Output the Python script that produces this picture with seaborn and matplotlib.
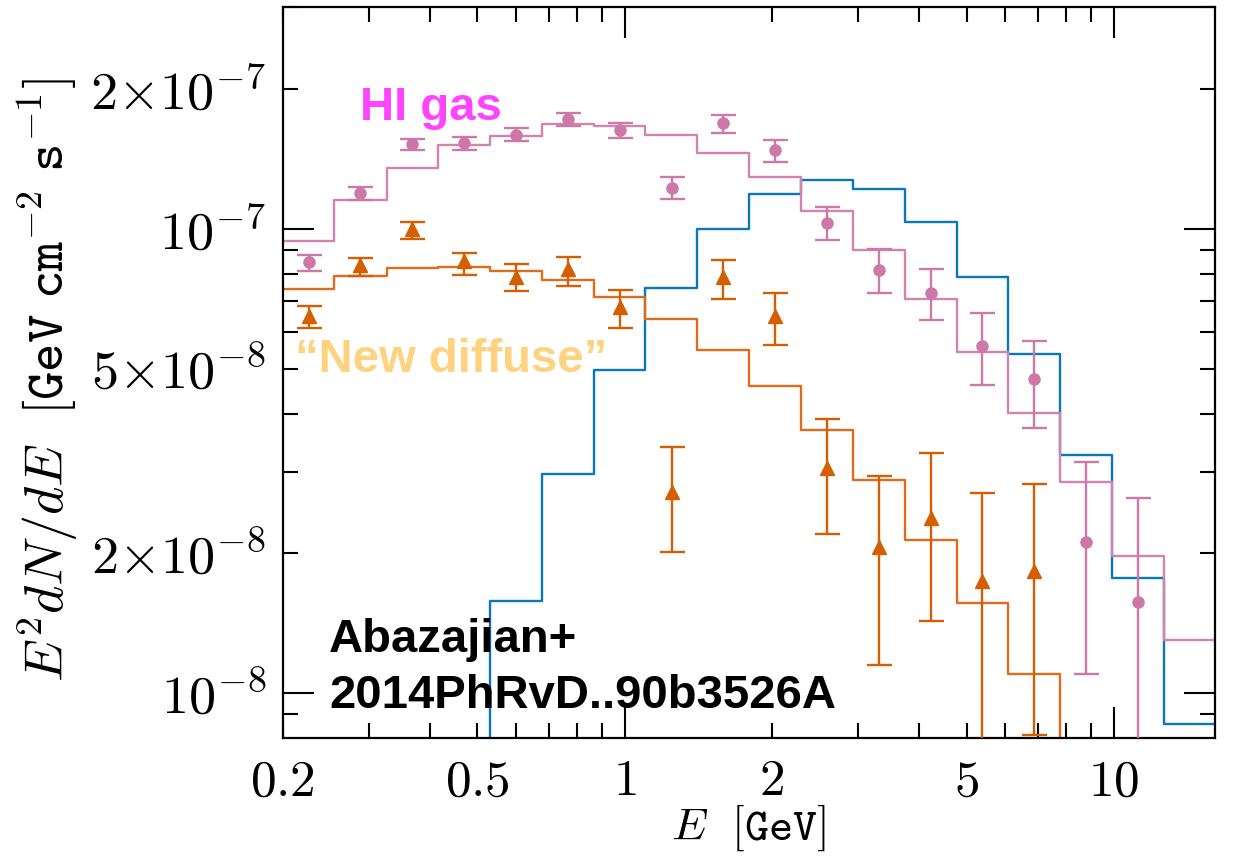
import matplotlib
matplotlib.use("Agg")
import matplotlib.pyplot as plt
import seaborn as sns
import numpy as np
import pandas as pd
from matplotlib.ticker import FixedLocator, NullFormatter

# ---------------- data (flux in units of 1e-7 GeV cm^-2 s^-1) ----------------
bin_edges = [0.200, 0.255, 0.326, 0.416, 0.531, 0.677, 0.864, 1.103, 1.408, 1.797,
             2.294, 2.928, 3.737, 4.769, 6.087, 7.768, 9.915, 12.65, 16.15]
bin_centers = [0.226, 0.288, 0.368, 0.470, 0.600, 0.765, 0.977, 1.247, 1.591, 2.030,
               2.592, 3.308, 4.221, 5.388, 6.877, 8.777, 11.20, 14.30]

hi_model = [0.942, 1.155, 1.352, 1.516, 1.587, 1.682, 1.666, 1.595, 1.454, 1.290,
            1.094, 0.898, 0.706, 0.542, 0.402, 0.285, 0.197, 0.130]
newdiff_model = [0.742, 0.793, 0.823, 0.828, 0.812, 0.776, 0.714, 0.639, 0.549, 0.459,
                 0.368, 0.287, 0.214, 0.156, 0.110, 0.065, 0.045, 0.030]
blue_model = [0.010, 0.016, 0.026, 0.042, 0.158, 0.296, 0.496, 0.744, 0.997, 1.190,
              1.274, 1.216, 1.035, 0.789, 0.537, 0.326, 0.177, 0.0856]

hi_val = [0.847, 1.192, 1.525, 1.531, 1.593, 1.721, 1.630, 1.226, 1.687, 1.475,
          1.029, 0.816, 0.729, 0.559, 0.474, 0.212, 0.157]
hi_up = [0.880, 1.228, 1.564, 1.577, 1.646, 1.777, 1.690, 1.292, 1.762, 1.556,
         1.114, 0.905, 0.821, 0.657, 0.574, 0.314, 0.263]
hi_low = [0.812, 1.155, 1.481, 1.481, 1.546, 1.666, 1.566, 1.157, 1.612, 1.395,
          0.944, 0.727, 0.635, 0.461, 0.373, 0.110, 0.050]

nd_val = [0.650, 0.834, 0.998, 0.852, 0.789, 0.819, 0.680, 0.271, 0.789, 0.650,
          0.306, 0.206, 0.238, 0.174, 0.183]
nd_up = [0.682, 0.866, 1.035, 0.888, 0.838, 0.869, 0.739, 0.338, 0.857, 0.728,
         0.389, 0.293, 0.329, 0.270, 0.282]
nd_low = [0.612, 0.791, 0.952, 0.796, 0.734, 0.752, 0.612, 0.201, 0.706, 0.563,
          0.220, 0.115, 0.143, 0.050, 0.0813]

x_ticks = [0.2, 0.5, 1, 2, 5, 10]
x_tick_labels = [r"$0.2$", r"$0.5$", r"$1$", r"$2$", r"$5$", r"$10$"]
y_ticks = [1e-8, 2e-8, 5e-8, 1e-7, 2e-7]
y_tick_labels = [r"$10^{-8}$", r"$2{\times}10^{-8}$", r"$5{\times}10^{-8}$",
                 r"$10^{-7}$", r"$2{\times}10^{-7}$"]

SCALE = 1e-7

# ---------------- style ----------------
sns.set_theme(style="ticks")
plt.rcParams["mathtext.fontset"] = "cm"
plt.rcParams["font.family"] = ["DejaVu Serif"]
plt.rcParams["axes.linewidth"] = 1.6

PINK = "#CC79A7"
PINK_STEP = "#D283B0"
ORANGE = "#D55E00"
ORANGE_STEP = "#DF6C1C"
BLUE = "#0A78B8"

fig = plt.figure(figsize=(12.33, 8.6), dpi=100)
ax = fig.add_axes([0.22928, 0.14186, 0.75612, 0.84965])
ax.set_xscale("log")
ax.set_yscale("log")


def step_frame(values):
    v = [x * SCALE for x in values] + [values[-1] * SCALE]
    return pd.DataFrame({"E": bin_edges, "F": v})


for vals, col in [(blue_model, BLUE), (newdiff_model, ORANGE_STEP), (hi_model, PINK_STEP)]:
    sns.lineplot(data=step_frame(vals), x="E", y="F", drawstyle="steps-post",
                 color=col, linewidth=1.7, ax=ax, estimator=None)

# data points
hv = np.array(hi_val) * SCALE
hu = np.array(hi_up) * SCALE
hl = np.array(hi_low) * SCALE
ax.errorbar(bin_centers[:len(hi_val)], hv, yerr=[hv - hl, hu - hv], fmt="o",
            color=PINK, markersize=8, capsize=9, elinewidth=1.7, capthick=1.7,
            zorder=5)

nv = np.array(nd_val) * SCALE
nu = np.array(nd_up) * SCALE
nl = np.array(nd_low) * SCALE
ax.errorbar(bin_centers[:len(nd_val)], nv, yerr=[nv - nl, nu - nv], fmt="^",
            color=ORANGE, markersize=10.5, capsize=9, elinewidth=1.7, capthick=1.7,
            zorder=5)

ax.set_xlim(0.2, 16.1)
ax.set_ylim(8e-9, 3e-7)

# ticks
ax.xaxis.set_major_locator(FixedLocator([1, 10]))
ax.xaxis.set_major_formatter(NullFormatter())
minor_x = [0.2, 0.3, 0.4, 0.5, 0.6, 0.7, 0.8, 0.9, 2, 3, 4, 5, 6, 7, 8, 9]
ax.xaxis.set_minor_locator(FixedLocator(minor_x))
ax.xaxis.set_minor_formatter(NullFormatter())
ax.yaxis.set_major_locator(FixedLocator([1e-8, 1e-7]))
ax.yaxis.set_major_formatter(NullFormatter())
minor_y = [9e-9] + [k * 1e-8 for k in range(2, 10)] + [2e-7, 3e-7]
ax.yaxis.set_minor_locator(FixedLocator(minor_y))
ax.yaxis.set_minor_formatter(NullFormatter())

ax.tick_params(which="both", direction="in", top=True, right=True, width=1.5,
               color="black")
ax.tick_params(which="major", length=22)
ax.tick_params(which="minor", length=11)

# tick labels as text placed at the tick positions
for xt, lab in zip(x_ticks, x_tick_labels):
    ax.text(xt, -0.026, lab, transform=ax.get_xaxis_transform(), ha="center",
            va="top", fontsize=37, color="black")
for yt, lab in zip(y_ticks, y_tick_labels):
    ax.text(-0.018, yt, lab, transform=ax.get_yaxis_transform(), ha="right",
            va="center_baseline", fontsize=39, color="black")

ax.set_xlabel(r"$E\ \ [\mathtt{GeV}]$", fontsize=33, color="black")
ax.set_ylabel(r"$E^2dN/dE\ \ [\mathtt{GeV\ cm}^{-2}\ \mathtt{s}^{-1}]$", fontsize=39,
              color="black")
ax.xaxis.set_label_coords(0.5, -0.088)
ax.yaxis.set_label_coords(-0.217, 0.49)

# annotations
bold = dict(family=["Liberation Sans", "DejaVu Sans"], fontweight="bold", fontsize=34)
ax.text(0.083, 0.846, "HI gas", transform=ax.transAxes, color="#FF44FF",
        ha="left", va="baseline", **bold)
ax.text(0.013, 0.501, "\u201cNew diffuse\u201d", transform=ax.transAxes, color="#FFD27F",
        ha="left", va="baseline", **bold)
ax.text(0.0497, 0.1177, "Abazajian+", transform=ax.transAxes, color="black",
        ha="left", va="baseline", **bold)
ax.text(0.0497, 0.0411, "2014PhRvD..90b3526A", transform=ax.transAxes, color="black",
        ha="left", va="baseline", **bold)

for sp in ax.spines.values():
    sp.set_color("black")
    sp.set_linewidth(1.6)

fig.savefig("out.png", dpi=100)
